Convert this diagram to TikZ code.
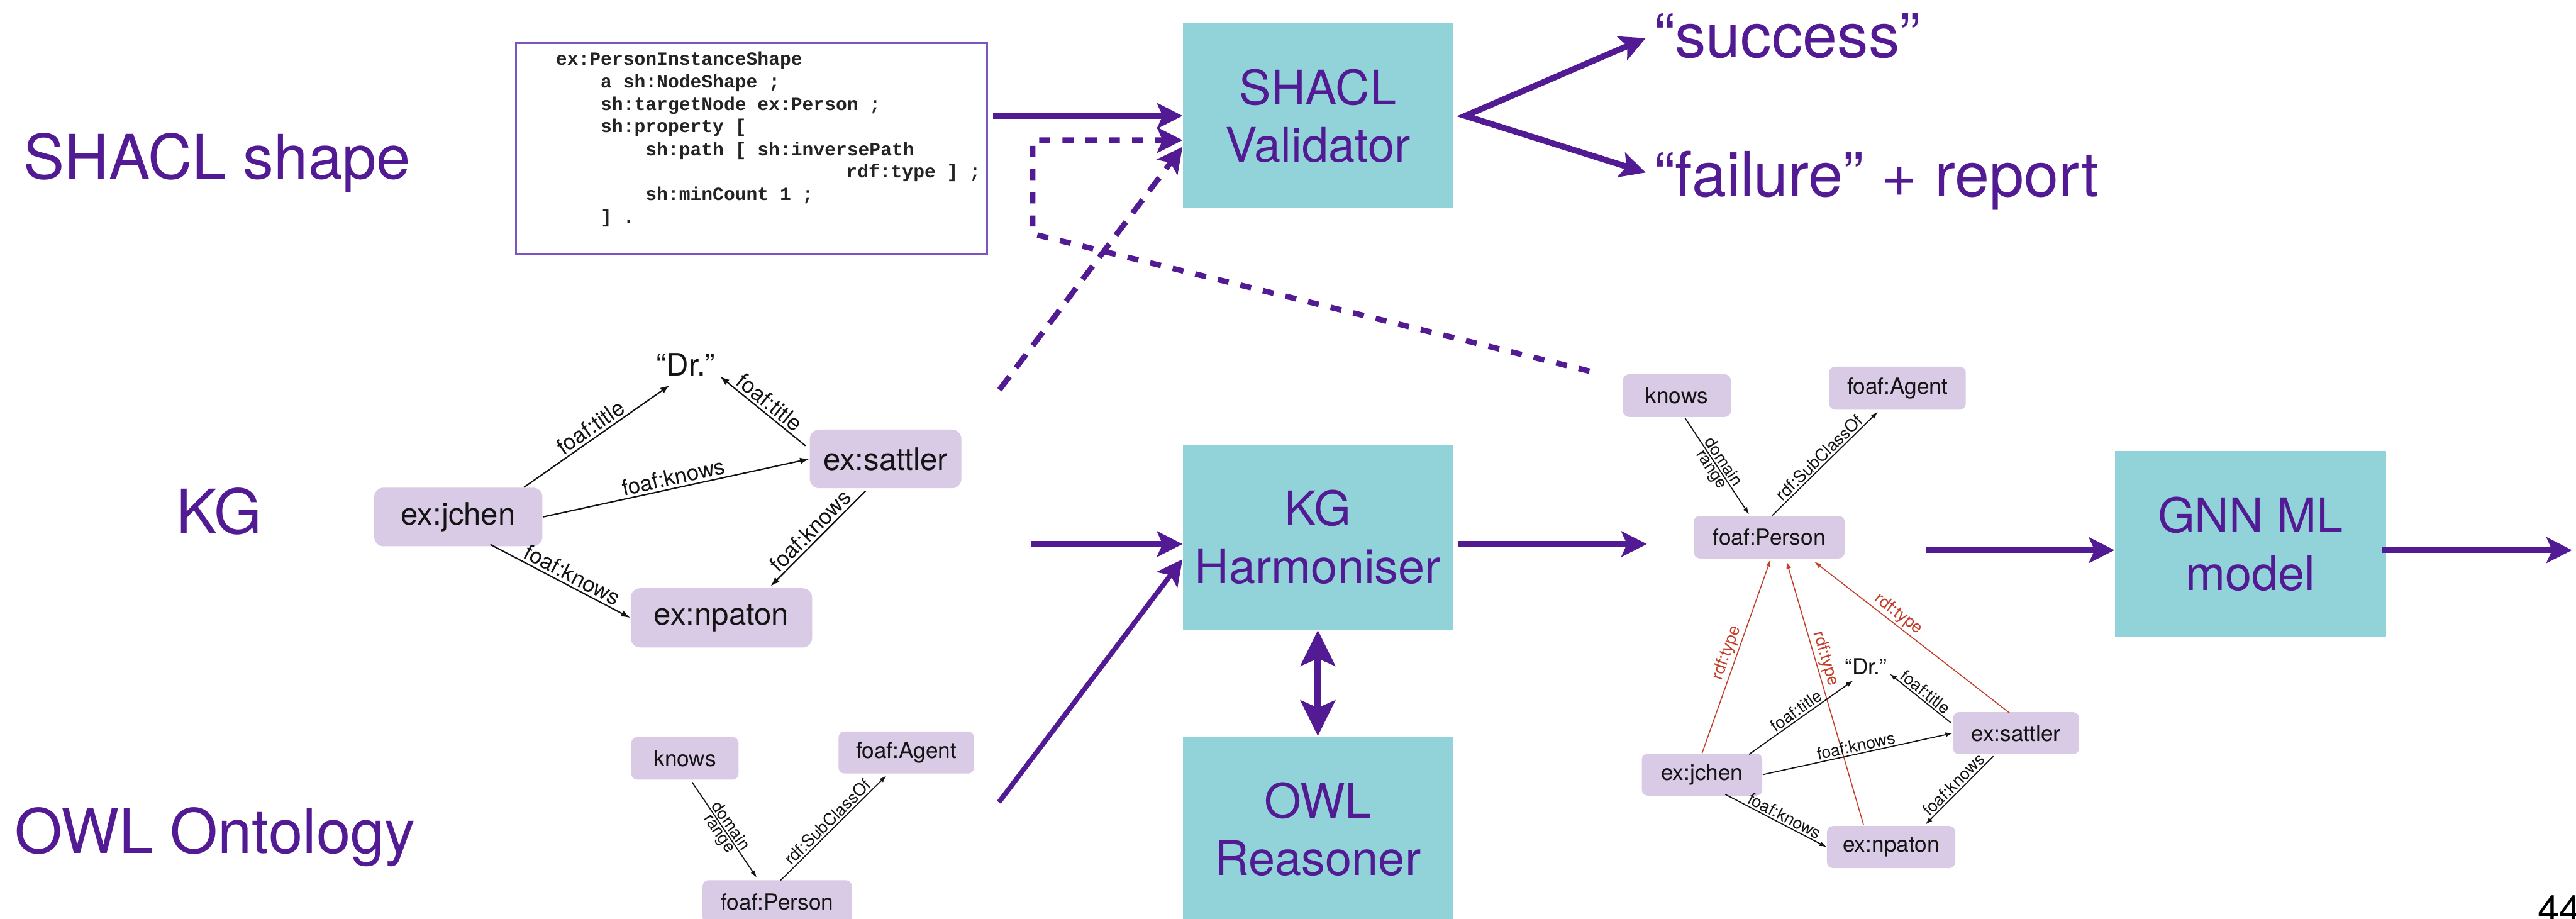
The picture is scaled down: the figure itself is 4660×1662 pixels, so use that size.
\documentclass[tikz,border=0pt]{standalone}
\usepackage{fontspec}
\setmainfont{TeX Gyre Heros}
\newfontfamily\codefont{Liberation Mono}
\usetikzlibrary{arrows.meta,calc}

\definecolor{purp}{RGB}{82,27,147}
\definecolor{tealbox}{RGB}{145,211,216}
\definecolor{lav}{RGB}{217,202,230}
\definecolor{typered}{RGB}{196,62,42}
\definecolor{codeframe}{RGB}{125,85,195}
\definecolor{codegray}{RGB}{35,35,35}
\definecolor{ink}{RGB}{20,20,20}

\tikzset{
  proc/.style={fill=tealbox, text=purp, minimum width=4.88cm, minimum height=3.35cm,
    inner sep=0pt, align=center, font=\fontsize{24.5}{29.6}\selectfont},
  side/.style={text=purp, inner sep=0pt, anchor=base west, font=\fontsize{31.6}{38}\selectfont},
  flow/.style={draw=purp, line width=0.11cm, -{Stealth[length=0.46cm,width=0.46cm,inset=0.1cm]}},
  flowboth/.style={draw=purp, line width=0.11cm, line join=miter,
    {Stealth[length=0.46cm,width=0.46cm,inset=0.1cm]}-{Stealth[length=0.46cm,width=0.46cm,inset=0.1cm]}},
  dbl/.style={draw=purp, line width=0.13cm,
    {Stealth[length=0.64cm,width=0.62cm,inset=0.13cm]}-{Stealth[length=0.64cm,width=0.62cm,inset=0.13cm]}},
  codeline/.style={anchor=base west, inner sep=0pt, text=codegray,
    font=\codefont\bfseries\fontsize{9.6}{11}\selectfont},
  gbig/.style={fill=lav, rounded corners=0.17cm, inner sep=0pt, text=ink,
    font=\fontsize{15.9}{18}\selectfont},
  gsmall/.style={fill=lav, rounded corners=0.11cm, inner sep=0pt, text=ink,
    font=\fontsize{11.4}{13}\selectfont},
  ebig/.style={draw=ink, line width=0.025cm, -{Latex[length=0.17cm,width=0.12cm]}},
  esmall/.style={draw=ink, line width=0.02cm, -{Latex[length=0.13cm,width=0.09cm]}},
  etype/.style={draw=typered, line width=0.018cm, -{Latex[length=0.13cm,width=0.09cm]}},
  lbig/.style={midway, sloped, above, inner sep=1.2pt, text=ink, font=\fontsize{11.3}{13}\selectfont},
  lsmall/.style={midway, sloped, above, inner sep=0.8pt, text=ink, font=\fontsize{8.6}{10}\selectfont},
  lsmallb/.style={midway, sloped, below, inner sep=0.8pt, text=ink, font=\fontsize{8.6}{10}\selectfont},
  ltype/.style={midway, sloped, above, inner sep=0.8pt, text=typered, font=\fontsize{8.6}{10}\selectfont},
}

\begin{document}
\begin{tikzpicture}[x=0.01cm, y=-0.01cm]
\useasboundingbox (0,0) rectangle (4660,1662);
\fill[white] (0,0) rectangle (4660,1662);

% row labels
\node[side] (lshacl) at (42,324) {SHACL shape};
\node[side] (lkg) at (318,965) {KG};
\node[side] (lowl) at (26,1543) {OWL Ontology};

% SHACL shape source
\node[draw=codeframe, line width=0.03cm, minimum width=8.51cm, minimum height=3.82cm, inner sep=0pt] (codebox) at (1359.5,269) {};
\node[codeline] (c1) at (1005,118) {ex:PersonInstanceShape};
\node[codeline] (c2) at (1086,159) {a sh:NodeShape ;};
\node[codeline] (c3) at (1086,199.5) {sh:targetNode ex:Person ;};
\node[codeline] (c4) at (1086,240) {sh:property [};
\node[codeline] (c5) at (1167,281) {sh:path [ sh:inversePath};
\node[codeline] (c6) at (1530,321.5) {rdf:type ] ;};
\node[codeline] (c7) at (1167,362) {sh:minCount 1 ;};
\node[codeline] (c8) at (1086,403) {] .};

% processing blocks
\node[proc] (shacl) at (2384,209.5) {SHACL\\Validator};
\node[proc] (harm) at (2384,971.5) {KG\\Harmoniser};
\node[proc] (owl) at (2384,1499.5) {OWL\\Reasoner};
\node[proc, minimum width=4.9cm, minimum height=3.36cm] (gnn) at (4071,984) {GNN ML\\model};

% validation outcomes
\node[side, font=\fontsize{32}{38}\selectfont] (succ) at (2992,104) {“success”};
\node[side, font=\fontsize{32}{38}\selectfont] (fail) at (2992,356) {“failure” + report};

% input knowledge graph
\node[gbig, minimum width=3.04cm, minimum height=1.06cm] (kjchen) at (829,935) {ex:jchen};
\node[gbig, minimum width=2.74cm, minimum height=1.06cm] (ksattler) at (1602,830) {ex:sattler};
\node[gbig, minimum width=3.28cm, minimum height=1.07cm] (knpaton) at (1305,1117.5) {ex:npaton};
\node[anchor=base, inner sep=0pt, text=ink, font=\fontsize{15.9}{18}\selectfont] (kdr) at (1240,680) {“Dr.”};

\draw[ebig] ($(kjchen.north)+(119,0)$) -- ($(kdr.south west)+(25,16)$) node[lbig] {foaf:title};
\draw[ebig] ($(ksattler.north west)+(-7,30)$) -- ($(kdr.south east)+(9,0)$) node[lbig] {foaf:title};
\draw[ebig] (kjchen.east) -- (ksattler.west) node[lbig] {foaf:knows};
\draw[ebig] ($(kjchen.south)+(58,-4)$) -- (knpaton.west) node[lbig, pos=0.55] {foaf:knows};
\draw[ebig] ($(ksattler.south)+(-36,4)$) -- ($(knpaton.north)+(89,-3)$) node[lbig] {foaf:knows};

% input ontology
\node[gsmall, minimum width=1.94cm, minimum height=0.77cm] (oknows) at (1239,1371.5) {knows};
\node[gsmall, minimum width=2.45cm, minimum height=0.76cm] (oagent) at (1639.5,1361) {foaf:Agent};
\node[gsmall, minimum width=2.70cm, minimum height=0.78cm] (operson) at (1406,1631) {foaf:Person};

\draw[esmall] ($(oknows.south)+(13,4)$) -- ($(operson.north)+(-37,-4)$)
  node[lsmall] {domain} node[lsmallb] {range};
\draw[esmall] ($(operson.north)+(6,1)$) -- ($(oagent.south)+(-36,3)$) node[lsmall] {rdf:SubClassOf};

% harmonised knowledge graph
\node[gsmall, minimum width=1.95cm, minimum height=0.77cm] (rknows) at (3033.5,715.5) {knows};
\node[gsmall, minimum width=2.47cm, minimum height=0.78cm] (ragent) at (3432.5,702) {foaf:Agent};
\node[gsmall, minimum width=2.73cm, minimum height=0.77cm] (rperson) at (3200.5,971.5) {foaf:Person};
\node[gsmall, minimum width=2.18cm, minimum height=0.76cm] (rjchen) at (3079,1401) {ex:jchen};
\node[gsmall, minimum width=2.28cm, minimum height=0.76cm] (rsattler) at (3647,1326) {ex:sattler};
\node[gsmall, minimum width=2.32cm, minimum height=0.76cm] (rnpaton) at (3421,1532) {ex:npaton};
\node[anchor=base, inner sep=0pt, text=ink, font=\fontsize{11.4}{13}\selectfont] (rdr) at (3375,1220) {“Dr.”};

\draw[esmall] ($(rknows.south)+(14.5,1)$) -- ($(rperson.north)+(-36.5,-2)$)
  node[lsmall] {domain} node[lsmallb] {range};
\draw[esmall] ($(rperson.north)+(5.5,0)$) -- ($(ragent.south)+(-35.5,3)$) node[lsmall] {rdf:SubClassOf};

\draw[etype] (rjchen.north) -- ($(rperson.south)+(2.5,1)$) node[ltype] {rdf:type};
\draw[etype] ($(rnpaton.north)+(-50,-2)$) -- ($(rperson.south)+(31.5,5)$) node[ltype, pos=0.62] {rdf:type};
\draw[etype] ($(rsattler.north)+(-12,2)$) -- ($(rperson.south)+(81.5,5)$) node[ltype, pos=0.6] {rdf:type};

\draw[esmall] ($(rjchen.north)+(85,2)$) -- ($(rdr.south west)+(16,10)$) node[lsmall] {foaf:title};
\draw[esmall] ($(rsattler.north west)+(-3,20)$) -- ($(rdr.south east)+(5,-2)$) node[lsmall] {foaf:title};
\draw[esmall] (rjchen.east) -- (rsattler.west) node[lsmall] {foaf:knows};
\draw[esmall] ($(rjchen.south)+(42,-3)$) -- (rnpaton.west) node[lsmall, pos=0.55] {foaf:knows};
\draw[esmall] ($(rsattler.south)+(-41,3)$) -- ($(rnpaton.north)+(62,-2)$) node[lsmall] {foaf:knows};

% data flow
\coordinate (kgtail) at (1808,705);
\coordinate (kgout) at (1866,984);
\coordinate (ontout) at (1807,1451);
\coordinate (rtail) at ($(rknows.north west)+(-60,-5)$);
\coordinate (apex) at ($(shacl.east)+(22,0)$);

\draw[flow] ($(codebox.east |- shacl.west)+(10,0)$) -- (shacl.west);
\draw[flowboth] ($(succ.west)+(-15,4)$) -- (apex) -- ($(fail.west)+(-15,-15)$);
\draw[flow, line width=0.1cm, dash pattern=on 0.2cm off 0.22cm] (rtail) -- (1868,423) |- ($(shacl.west)+(0,44)$);
\draw[flow, line width=0.1cm, dash pattern=on 0.3cm off 0.2cm] (kgtail) -- ($(shacl.west)+(0,56)$);

\draw[flow] (kgout) -- (kgout -| harm.west);
\draw[flow, line width=0.09cm] (ontout) -- ($(harm.west)+(0,40)$);
\draw[dbl] (harm.south) -- (owl.north);
\draw[flow] ($(harm.east |- kgout)+(8,0)$) -- ($(rperson.west |- kgout)+(-84,0)$);
\draw[flow] ($(rperson.east |- gnn.west)+(146,11)$) -- ($(gnn.west)+(0,11)$);
\draw[flow] ($(gnn.east)+(-7,11)$) -- ++(343,0);

% page number
\node[anchor=base west, inner sep=0pt, text=black, font=\fontsize{20}{24}\selectfont] (pageno) at (4590,1670) {44};
\end{tikzpicture}
\end{document}
